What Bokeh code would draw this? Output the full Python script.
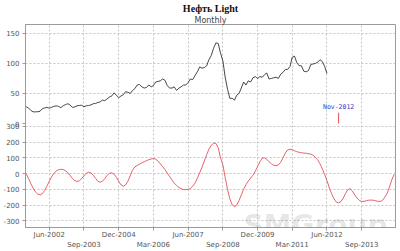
import pandas as pd
from bokeh.plotting import figure
from bokeh.models import Range1d, FixedTicker, Grid, Title, Label, ColumnDataSource
from bokeh.embed import file_html
from bokeh.resources import INLINE

# ---------------- data ----------------
title_text = "Нефть Light"
subtitle_text = "Monthly"
series_start = "2001-08-01"

# monthly oil price, Aug 2001 .. Jun 2012
oil_price = [
    28, 26, 22, 19.5, 19.5,
    19.7, 20.5, 24.5, 26, 27, 25.5, 27, 28.5, 29.5, 28.5, 26.5, 29.5,
    31.5, 33, 31, 27, 27.5, 29.5, 30, 30.5, 28, 29.5, 30, 31,
    33, 33.5, 35, 36, 39, 38, 41, 44, 46, 51, 47, 43,
    46, 48, 53, 52, 50, 55, 58, 64, 65, 61, 59, 60,
    64, 61, 63, 69, 70, 71, 74, 72, 63, 59, 59, 61,
    55, 59, 61, 64, 64, 68, 74, 73, 80, 86, 94, 92,
    93, 96, 106, 113, 125, 134, 133, 117, 104, 77, 57, 42,
    42, 39, 47, 50, 59, 69, 64, 71, 69, 76, 78, 75,
    78, 77, 81, 84, 74, 75, 76, 77, 75, 82, 85, 90,
    90, 95, 110, 112, 101, 96, 96, 87, 86, 88, 98, 99,
    100, 102, 106, 103, 95, 83,
]

# monthly oscillator, Aug 2001 .. Nov 2014
oscillator = [
    0, -30, -62, -92, -116, -130, -135, -128, -108, -80,
    -50, -22, 2, 16, 24, 27, 26, 18, 5, -12,
    -30, -44, -50, -46, -32, -14, 2, 8, 4, -10,
    -30, -48, -55, -48, -32, -12, 2, 5, -4, -24,
    -50, -72, -80, -72, -48, -14, 22, 42, 52, 60,
    68, 75, 82, 88, 93, 95, 92, 80, 62, 45,
    25, 4, -18, -40, -60, -76, -88, -96, -101, -102,
    -100, -94, -80, -60, -30, 5, 40, 80, 120, 155,
    180, 193, 192, 165, 100, 55, -25, -100, -160, -198,
    -210, -200, -172, -135, -100, -70, -48, -28, -10, 15,
    45, 75, 98, 100, 90, 75, 62, 53, 50, 55,
    72, 100, 130, 150, 155, 152, 145, 139, 135, 132,
    130, 129, 126, 124, 116, 102, 87, 62, 30, -5,
    -45, -90, -128, -160, -180, -186, -178, -155, -125, -102,
    -96, -110, -135, -155, -170, -177, -176, -172, -169, -168,
    -169, -172, -176, -177, -170, -150, -125, -85, -40, -5,
]

x_tick_labels = ["Jun-2002", "Sep-2003", "Dec-2004", "Mar-2006", "Jun-2007",
                 "Sep-2008", "Dec-2009", "Mar-2011", "Jun-2012", "Sep-2013"]
oil_ticks = [0, 50, 100, 150]
osc_ticks = [-300, -200, -100, 0, 100, 200, 300]
marker_label = "Nov-2012"
marker_top = 18
watermark = "SMGroup"

# ---------------- helpers ----------------
def ms(ts):
    return int(pd.Timestamp(ts).value // 10**6)

oil_x = pd.date_range(series_start, periods=len(oil_price), freq="MS")
osc_x = pd.date_range(series_start, periods=len(oscillator), freq="MS")
tick_ms = [ms(pd.to_datetime(t, format="%b-%Y")) for t in x_tick_labels]

X0, X1 = ms("2001-07-24"), ms("2014-11-19")
OSC_LO, OSC_HI = -342, 946
OIL_LO, OIL_HI = -172.5, 164.5

def oil_to_osc(v):
    return round(OSC_LO + (v - OIL_LO) / (OIL_HI - OIL_LO) * (OSC_HI - OSC_LO), 4)

LABEL_FONT = "DejaVu Sans"
TXT = "#555555"
FRAME = "#9a9a9a"
GRID = "#c4c4c4"
RED = "#e5505a"

p = figure(width=400, height=251, x_axis_type="datetime",
           x_range=Range1d(X0, X1), y_range=Range1d(OSC_LO, OSC_HI),
           output_backend="svg", toolbar_location=None,
           min_border_left=21, min_border_right=5, min_border_top=0, min_border_bottom=0,
           background_fill_color="white", border_fill_color="white")
p.extra_y_ranges = {"oil": Range1d(OIL_LO, OIL_HI)}
p.outline_line_color = FRAME

# titles
p.title.text = title_text
p.title.align = "center"
p.title.text_font = "Liberation Serif"
p.title.text_font_size = "10px"
p.title.text_font_style = "bold"
p.title.text_color = "#111111"
p.title.standoff = 0
p.add_layout(Title(text=subtitle_text, align="center", text_font=LABEL_FONT,
                   text_font_size="8px", text_font_style="normal",
                   text_color="#444444", standoff=0), "above")

# y axis (combined ticks for both panels)
ytick_pos = osc_ticks + [oil_to_osc(v) for v in oil_ticks]
ylabels = {t: str(t) for t in osc_ticks}
for v in oil_ticks:
    ylabels[oil_to_osc(v)] = str(v)
yax = p.yaxis[0]
yax.ticker = FixedTicker(ticks=ytick_pos)
yax.major_label_overrides = ylabels
yax.major_label_text_font = LABEL_FONT
yax.major_label_text_font_size = "7px"
yax.major_label_text_color = TXT
yax.axis_line_color = FRAME
yax.major_tick_line_color = FRAME
yax.major_tick_out = 3
yax.major_tick_in = 0
yax.minor_tick_line_color = None
yax.major_label_standoff = 3

# x axis, two staggered rows (odd labels pushed to a second line)
xax = p.xaxis[0]
xax.ticker = FixedTicker(ticks=tick_ms)
xax.major_label_overrides = {t: (lab if i % 2 == 0 else "\n" + lab)
                             for i, (t, lab) in enumerate(zip(tick_ms, x_tick_labels))}
xax.major_label_text_font = LABEL_FONT
xax.major_label_text_font_size = "7px"
xax.major_label_text_color = TXT
xax.major_label_text_line_height = 1.25
xax.axis_line_color = FRAME
xax.major_tick_line_color = FRAME
xax.major_tick_out = 3
xax.major_tick_in = 0
xax.minor_tick_line_color = None
xax.major_label_standoff = 0

# grids
p.xgrid.ticker = FixedTicker(ticks=tick_ms)
p.xgrid.grid_line_color = GRID
p.xgrid.grid_line_dash = "2 2"
p.ygrid.ticker = FixedTicker(ticks=osc_ticks)
p.ygrid.grid_line_color = GRID
p.ygrid.grid_line_dash = "2 2"
p.add_layout(Grid(dimension=1, ticker=FixedTicker(ticks=oil_ticks[1:]), y_range_name="oil",
                  grid_line_color=GRID, grid_line_dash="2 2"))

# series
oil_src = ColumnDataSource(dict(x=oil_x, y=oil_price))
osc_src = ColumnDataSource(dict(x=osc_x, y=oscillator))
p.line("x", "y", source=oil_src, y_range_name="oil", line_color="#333333", line_width=0.9)
p.line("x", "y", source=osc_src, line_color=RED, line_width=0.9)

# Nov-2012 marker
mx = ms(pd.to_datetime(marker_label, format="%b-%Y"))
p.segment(x0=[mx], y0=[0], x1=[mx], y1=[marker_top], y_range_name="oil",
          line_color=RED, line_width=1)
p.add_layout(Label(x=mx, y=marker_top + 3, y_range_name="oil", text=marker_label,
                   text_align="center", text_baseline="bottom",
                   text_font="DejaVu Sans Mono", text_font_size="6.5px", text_color="#3535cc"))

# watermark (kept inside the frame)
p.add_layout(Label(x=ms("2012-01-01"), y=-330, text=watermark, text_align="center",
                   text_baseline="alphabetic", text_font="DejaVu Sans", text_font_size="28px",
                   text_font_style="bold", text_color="#000000", text_alpha=0.1))

open("out.html", "w").write(file_html(p, INLINE))
